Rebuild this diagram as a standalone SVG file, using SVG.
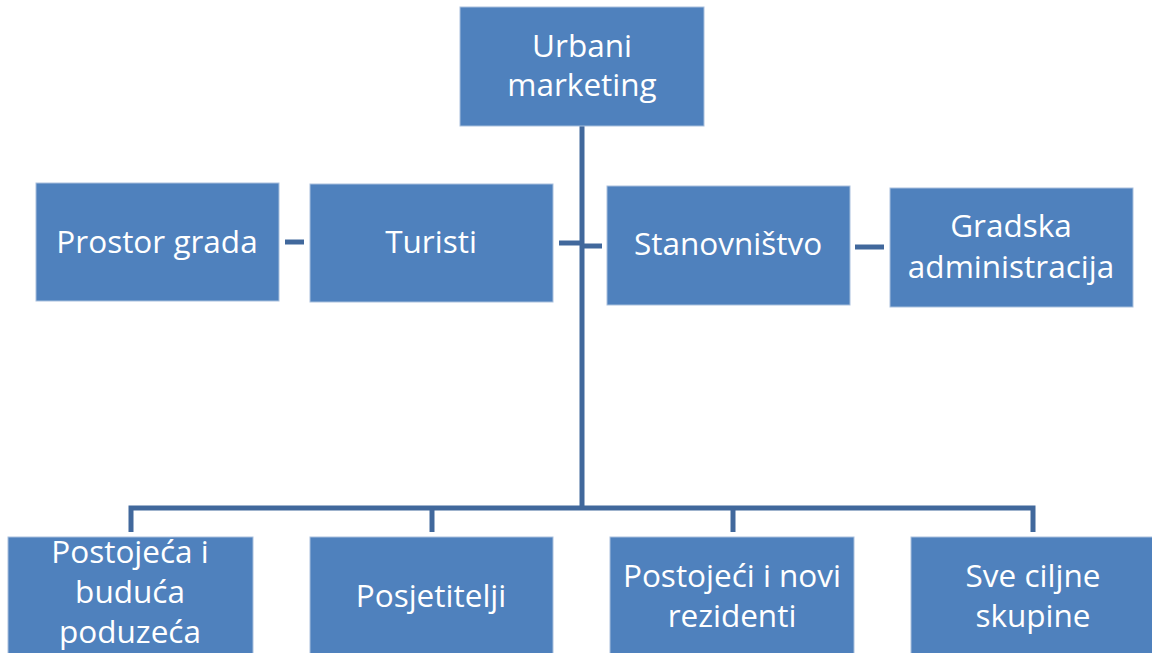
<svg xmlns="http://www.w3.org/2000/svg" width="1152" height="653" viewBox="0 0 1152 653">
<style>
.box{fill:#4F81BD;stroke:#A9C0DD;stroke-width:1}
.t{font-family:"Open Sans","Noto Sans","Liberation Sans",sans-serif;font-size:31.5px;fill:#FFFFFF;text-anchor:middle}
.c{stroke:#41689C;stroke-width:5;fill:none}
</style>
<rect width="1152" height="653" fill="#FFFFFF"/>
<g id="connectors">
<path class="c" d="M582 126 V508"/>
<path class="c" d="M131 532 V508 H1033 V532"/>
<path class="c" d="M432 508 V532"/>
<path class="c" d="M733 508 V532"/>
<path class="c" d="M559 243 H582"/>
<path class="c" d="M582 246 H602"/>
<path class="c" d="M285 242 H304"/>
<path class="c" d="M855 247 H884"/>
</g>
<g id="urbani">
<rect class="box" x="460" y="7" width="244" height="119"/>
<text class="t" x="582" y="57">Urbani</text>
<text class="t" x="582" y="96">marketing</text>
</g>
<g id="prostor">
<rect class="box" x="36" y="183" width="243" height="118"/>
<text class="t" x="157" y="253">Prostor grada</text>
</g>
<g id="turisti">
<rect class="box" x="310" y="184" width="243" height="118"/>
<text class="t" x="431" y="253">Turisti</text>
</g>
<g id="stanovnistvo">
<rect class="box" x="607" y="186" width="243" height="119"/>
<text class="t" x="728" y="255">Stanovništvo</text>
</g>
<g id="gradska">
<rect class="box" x="890" y="188" width="243" height="119"/>
<text class="t" x="1011" y="237">Gradska</text>
<text class="t" x="1011" y="278">administracija</text>
</g>
<g id="poduzeca">
<rect class="box" x="8" y="537" width="245" height="130"/>
<text class="t" x="130" y="563">Postojeća i</text>
<text class="t" x="130" y="603">buduća</text>
<text class="t" x="130" y="643">poduzeća</text>
</g>
<g id="posjetitelji">
<rect class="box" x="310" y="537" width="243" height="130"/>
<text class="t" x="431" y="607">Posjetitelji</text>
</g>
<g id="rezidenti">
<rect class="box" x="610" y="537" width="244" height="130"/>
<text class="t" x="732" y="587">Postojeći i novi</text>
<text class="t" x="732" y="627">rezidenti</text>
</g>
<g id="skupine">
<rect class="box" x="911" y="537" width="245" height="130"/>
<text class="t" x="1033" y="587">Sve ciljne</text>
<text class="t" x="1033" y="627">skupine</text>
</g>
</svg>
